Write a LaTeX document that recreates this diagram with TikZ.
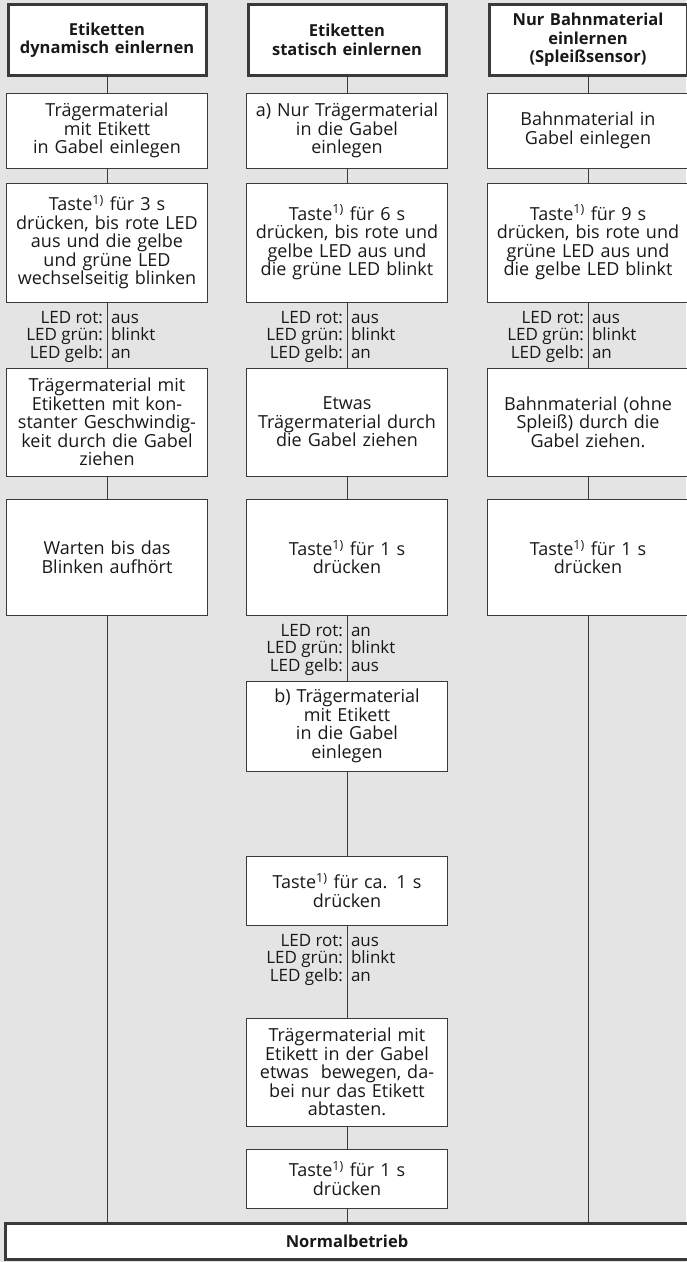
\documentclass[tikz,border=0pt]{standalone}
\usepackage{fontspec}
\setmainfont{Open Sans}
\usetikzlibrary{positioning}
\definecolor{bggray}{HTML}{E4E4E4}
\definecolor{linegray}{HTML}{3A3A3A}
\newcommand{\taste}{Taste\textsuperscript{1)}}

\begin{document}
\begin{tikzpicture}[x=1pt,y=1pt,
    stepbox/.style={draw=linegray,line width=0.9pt,fill=white,text width=191pt,
      inner xsep=5pt,inner ysep=0pt,outer sep=0pt,align=center,
      font=\fontsize{18}{18.5}\selectfont,text=black!90},
    headbox/.style={stepbox,line width=3pt,text width=188pt,font=\fontsize{16.5}{18.5}\selectfont\bfseries},
    ledtext/.style={inner sep=0pt,outer sep=0pt,font=\fontsize{17}{17.5}\selectfont,text=black!90},
    conn/.style={draw=linegray,line width=0.9pt}]
  \fill[bggray] (0,0) rectangle (686,-1262);
  \useasboundingbox (0,0) rectangle (686,-1262);

  % headers
  \node[headbox,minimum height=71pt] (h1) at (107,-40) {Etiketten\\dynamisch einlernen};
  \node[headbox,minimum height=71pt] (h2) at (347,-40) {Etiketten\\statisch einlernen};
  \node[headbox,minimum height=71pt] (h3) at (588,-40) {Nur Bahnmaterial\\einlernen\\(Spleißsensor)};

  % dynamisch
  \node[stepbox,minimum height=75pt,below=17.5pt of h1] (b1) {Trägermaterial\\mit Etikett\\in Gabel einlegen};
  \node[stepbox,minimum height=119pt,below=15pt of b1] (c1) {\taste{} für 3 s\\drücken, bis rote LED\\aus und die gelbe\\und grüne LED\\wechselseitig blinken};
  \node[stepbox,minimum height=108pt,below=66pt of c1] (d1) {Trägermaterial mit\\Etiketten mit kon-\\stanter Geschwindig-\\keit durch die Gabel\\ziehen};
  \node[stepbox,minimum height=116pt,below=23pt of d1] (e1) {Warten bis das\\Blinken aufhört};

  % statisch
  \node[stepbox,minimum height=75pt,below=17.5pt of h2] (b2) {a) Nur Trägermaterial\\in die Gabel\\einlegen};
  \node[stepbox,minimum height=119pt,below=15pt of b2] (c2) {\taste{} für 6 s\\drücken, bis rote und\\gelbe LED aus und\\die grüne LED blinkt};
  \node[stepbox,minimum height=108pt,below=66pt of c2] (d2) {Etwas\\Trägermaterial durch\\die Gabel ziehen};
  \node[stepbox,minimum height=116pt,below=23pt of d2] (e2) {\taste{} für 1 s\\drücken};
  \node[stepbox,minimum height=90pt,below=66pt of e2] (f2) {b) Trägermaterial\\mit Etikett\\in die Gabel\\einlegen};
  \node[stepbox,minimum height=69pt,below=85pt of f2] (g2) {\taste{} für ca. 1 s\\drücken};
  \node[stepbox,minimum height=108pt,below=93pt of g2] (k2) {Trägermaterial mit\\Etikett in der Gabel\\etwas\ \ bewegen, da-\\bei nur das Etikett\\abtasten.};
  \node[stepbox,minimum height=59pt,below=23pt of k2] (m2) {\taste{} für 1 s\\drücken};

  % Spleiss
  \node[stepbox,minimum height=75pt,below=17.5pt of h3] (b3) {Bahnmaterial in\\Gabel einlegen};
  \node[stepbox,minimum height=119pt,below=15pt of b3] (c3) {\taste{} für 9 s\\drücken, bis rote und\\grüne LED aus und\\die gelbe LED blinkt};
  \node[stepbox,minimum height=108pt,below=66pt of c3] (d3) {Bahnmaterial (ohne\\Spleiß) durch die\\Gabel ziehen.};
  \node[stepbox,minimum height=116pt,below=23pt of d3] (e3) {\taste{} für 1 s\\drücken};

  \node[headbox,text width=673pt,minimum height=36pt,below=15.5pt of m2] (nb) {Normalbetrieb};

  % LED Zustaende
  \foreach \s/\r/\g/\y in {c1/aus/blinkt/an, c2/aus/blinkt/an, c3/aus/blinkt/an,
                          e2/an/blinkt/aus, g2/aus/blinkt/an} {
    \node[ledtext,align=right,below left=9pt and 4pt of \s.south] (l\s) {LED rot:\\LED grün:\\LED gelb:};
    \node[ledtext,align=left,below right=9pt and 4pt of \s.south] (v\s) {\vphantom{L}\r\\\g\\\y};
  }

  \foreach \c in {1,3}
    \draw[conn] (h\c) -- (b\c) -- (c\c) -- (d\c) -- (e\c) -- (e\c |- nb.north);
  \draw[conn] (h2) -- (b2) -- (c2) -- (d2) -- (e2) -- (f2) -- (g2) -- (k2) -- (m2) -- (nb);
\end{tikzpicture}
\end{document}
